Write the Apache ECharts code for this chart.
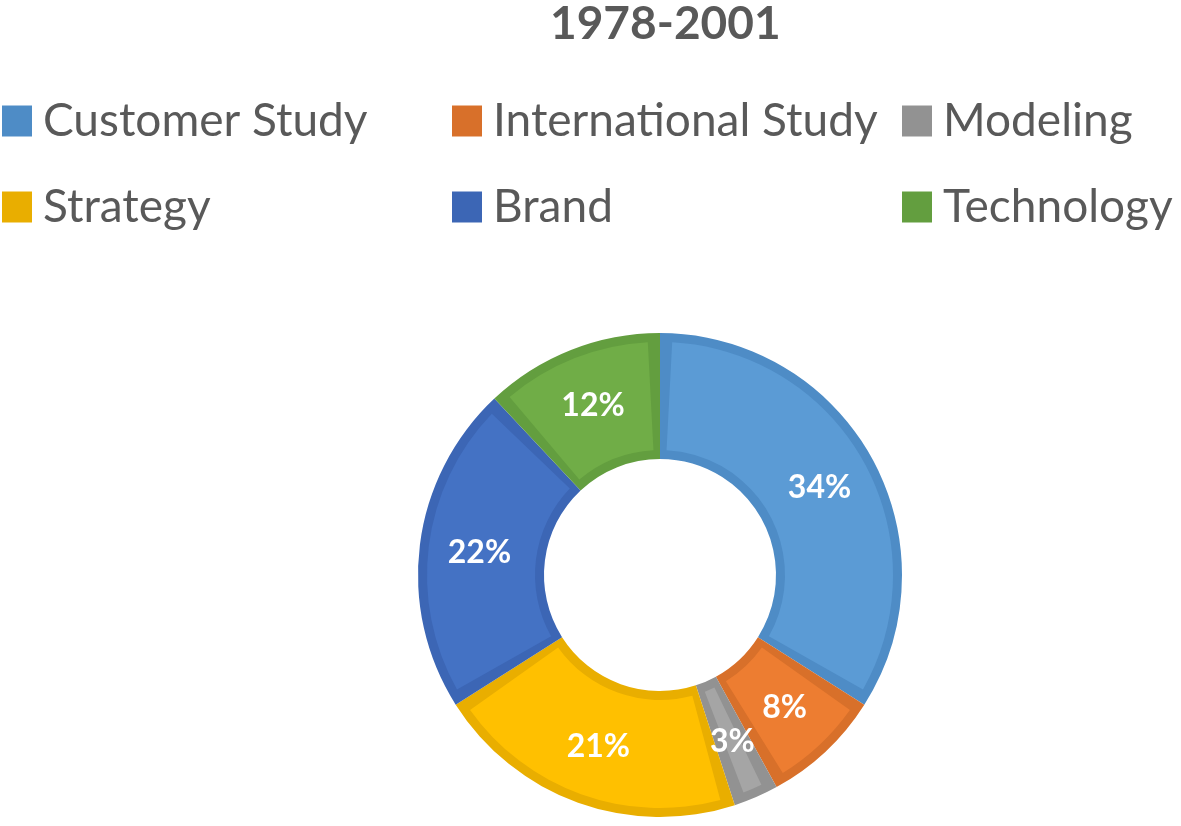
<!DOCTYPE html>
<html>
<head>
<meta charset="utf-8">
<script src="https://cdn.jsdelivr.net/npm/echarts@6/dist/echarts.min.js"></script>
<style>
html,body{margin:0;padding:0;background:#fff;}
#chart{width:1181px;height:826px;}
</style>
</head>
<body>
<div id="chart"></div>
<script>
const titleText = '1978-2001';
const categories = ['Customer Study', 'International Study', 'Modeling', 'Strategy', 'Brand', 'Technology'];
const values = [34, 8, 3, 21, 22, 12];
const fillColors = ['#5B9BD5', '#ED7D31', '#A5A5A5', '#FFC000', '#4472C4', '#70AD47'];
const edgeColors = ['#4E8CC6', '#D8702A', '#929292', '#E9AE00', '#3C66B5', '#639E3F'];

const font = 'Lato, "Open Sans", sans-serif';
const chart = echarts.init(document.getElementById('chart'));

const edgeData = categories.map((n, i) => ({ name: n, value: values[i], itemStyle: { color: edgeColors[i] } }));
const fillData = categories.map((n, i) => ({ name: n, value: values[i], itemStyle: { color: fillColors[i] } }));

function legendCol(left, names) {
  return {
    orient: 'vertical', left: left, top: 91,
    icon: 'rect', itemWidth: 30, itemHeight: 31, itemGap: 36,
    selectedMode: false,
    data: names,
    textStyle: { color: '#595959', fontSize: 46, fontFamily: font, lineHeight: 50, padding: [0, 0, 0, 6] }
  };
}

chart.setOption({
  animation: false,
  title: {
    text: titleText, left: 545, top: -4,
    textStyle: { color: '#595959', fontSize: 46, fontWeight: 'bold', fontFamily: font }
  },
  legend: [
    legendCol(-3, [categories[0], categories[3]]),
    legendCol(447, [categories[1], categories[4]]),
    legendCol(897, [categories[2], categories[5]])
  ],
  series: [
    {
      type: 'pie', name: 'edge', radius: [116, 242], center: [660, 575],
      startAngle: 90, clockwise: true, silent: true,
      label: { show: false }, labelLine: { show: false },
      data: edgeData
    },
    {
      type: 'pie', name: 'fill', radius: [125, 233], center: [660, 575],
      startAngle: 90, clockwise: true, padAngle: 6, silent: true,
      label: {
        show: true, position: 'inside', formatter: '{c}%',
        color: '#ffffff', fontSize: 32, fontWeight: 'bold', fontFamily: font
      },
      labelLine: { show: false },
      data: fillData
    }
  ]
});
</script>
</body>
</html>
